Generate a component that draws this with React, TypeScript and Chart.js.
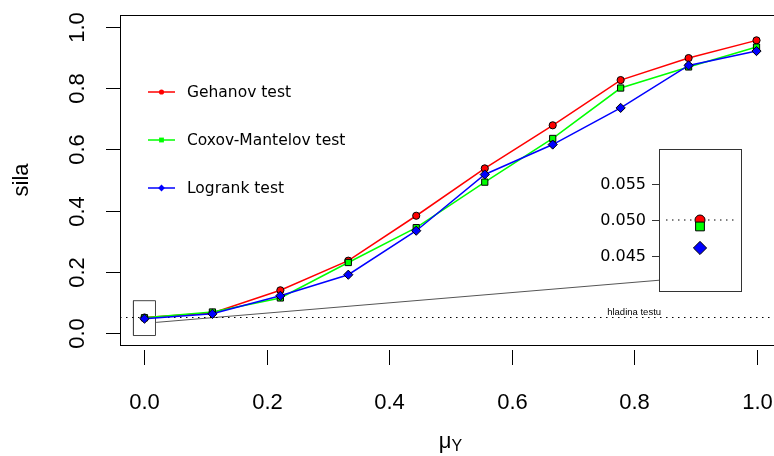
import React, { useEffect, useRef } from "react";
import { Chart, registerables } from "chart.js";

Chart.register(...registerables);

// ---- data ----
const muY = [0, 0.111, 0.222, 0.333, 0.444, 0.556, 0.667, 0.778, 0.889, 1.0];
const gehanPower = [0.05, 0.065, 0.139, 0.236, 0.383, 0.538, 0.679, 0.827, 0.899, 0.957];
const coxPower = [0.0491, 0.068, 0.114, 0.23, 0.344, 0.493, 0.636, 0.801, 0.87, 0.935];
const logrankPower = [0.0461, 0.062, 0.121, 0.19, 0.334, 0.518, 0.616, 0.736, 0.875, 0.922];

const seriesNames = ["Gehanov test", "Coxov-Mantelov test", "Logrank test"];
const seriesColors = ["#ff0000", "#00ff00", "#0000ff"];
const seriesShapes = ["circle", "rect", "rectRot"];

const xTicks = [0, 0.2, 0.4, 0.6, 0.8, 1.0];
const xTickLabels = ["0.0", "0.2", "0.4", "0.6", "0.8", "1.0"];
const yTicks = [0, 0.2, 0.4, 0.6, 0.8, 1.0];
const yTickLabels = ["0.0", "0.2", "0.4", "0.6", "0.8", "1.0"];
const insetTicks = [0.045, 0.05, 0.055];
const insetTickLabels = ["0.045", "0.050", "0.055"];

const alphaLevel = 0.05;
const alphaLabel = "hladina testu";
const alphaLabelX = 0.8;
const zoomBoxX = [-0.018, 0.018];
const zoomBoxY = [-0.009, 0.105];
const connectorX = [0.019, 0.841];
const connectorY = [0.034, 0.172];
const insetDotX = [-0.83, 0.85];

const AXIS_FONT = "'Liberation Sans', Arial, sans-serif";
const LEGEND_FONT = "'DejaVu Sans', Verdana, sans-serif";

function drawMarker(ctx: CanvasRenderingContext2D, shape: string, x: number, y: number, r: number) {
  ctx.beginPath();
  if (shape === "circle") {
    ctx.arc(x, y, r, 0, Math.PI * 2);
  } else if (shape === "rect") {
    const s = r * Math.SQRT1_2;
    ctx.rect(x - s, y - s, 2 * s, 2 * s);
  } else {
    ctx.moveTo(x - r, y);
    ctx.lineTo(x, y - r);
    ctx.lineTo(x + r, y);
    ctx.lineTo(x, y + r);
    ctx.closePath();
  }
  ctx.fill();
}

const mainDecor = {
  id: "mainDecor",
  afterDraw(chart: any) {
    const ctx: CanvasRenderingContext2D = chart.ctx;
    const a = chart.chartArea;
    const xs = chart.scales.x;
    const ys = chart.scales.y;
    ctx.save();
    // frame
    ctx.strokeStyle = "#000";
    ctx.lineWidth = 1;
    ctx.strokeRect(Math.round(a.left) + 0.5, Math.round(a.top) + 0.5, Math.round(a.right - a.left), Math.round(a.bottom - a.top));
    // x ticks
    ctx.fillStyle = "#000";
    ctx.font = `22px ${AXIS_FONT}`;
    ctx.textAlign = "center";
    ctx.textBaseline = "middle";
    xTicks.forEach((v, i) => {
      const px = Math.round(xs.getPixelForValue(v)) + 0.5;
      ctx.beginPath();
      ctx.moveTo(px, a.bottom + 5);
      ctx.lineTo(px, a.bottom + 20);
      ctx.stroke();
      ctx.fillText(xTickLabels[i], px, a.bottom + 58);
    });
    // y ticks
    yTicks.forEach((v, i) => {
      const py = Math.round(ys.getPixelForValue(v)) + 0.5;
      ctx.beginPath();
      ctx.moveTo(a.left, py);
      ctx.lineTo(a.left - 14, py);
      ctx.stroke();
      ctx.save();
      ctx.translate(a.left - 42, py);
      ctx.rotate(-Math.PI / 2);
      ctx.fillText(yTickLabels[i], 0, 0);
      ctx.restore();
    });
    // axis titles
    ctx.save();
    ctx.translate(a.left - 98, (a.top + a.bottom) / 2);
    ctx.rotate(-Math.PI / 2);
    ctx.fillText("sila", 0, 0);
    ctx.restore();
    const cx = (a.left + a.right) / 2;
    ctx.font = `22px ${AXIS_FONT}`;
    const muW = ctx.measureText("μ").width;
    ctx.font = `16px ${AXIS_FONT}`;
    const yW = ctx.measureText("Y").width;
    const startX = cx - (muW + yW) / 2;
    ctx.textAlign = "left";
    ctx.font = `22px ${AXIS_FONT}`;
    ctx.fillText("μ", startX, a.bottom + 97);
    ctx.font = `16px ${AXIS_FONT}`;
    ctx.fillText("Y", startX + muW, a.bottom + 102);
    // alpha label
    ctx.font = `9.5px ${AXIS_FONT}`;
    ctx.textAlign = "center";
    ctx.textBaseline = "alphabetic";
    ctx.fillText(alphaLabel, xs.getPixelForValue(alphaLabelX), ys.getPixelForValue(alphaLevel) - 3);
    // legend
    ctx.font = `15.5px ${LEGEND_FONT}`;
    ctx.textAlign = "left";
    ctx.textBaseline = "middle";
    const rowsY = [92, 140, 188];
    seriesNames.forEach((name, i) => {
      const y = rowsY[i];
      ctx.strokeStyle = seriesColors[i];
      ctx.lineWidth = 1.5;
      ctx.beginPath();
      ctx.moveTo(148, y);
      ctx.lineTo(175, y);
      ctx.stroke();
      ctx.fillStyle = seriesColors[i];
      drawMarker(ctx, seriesShapes[i], 161.5, y, seriesShapes[i] === "circle" ? 2.6 : 3.4);
      ctx.fillStyle = "#000";
      ctx.fillText(name, 187, y + 1);
    });
    ctx.restore();
  },
};

const insetDecor = {
  id: "insetDecor",
  afterDraw(chart: any) {
    const ctx: CanvasRenderingContext2D = chart.ctx;
    const a = chart.chartArea;
    const ys = chart.scales.y;
    ctx.save();
    ctx.strokeStyle = "#333";
    ctx.lineWidth = 1;
    ctx.strokeRect(Math.round(a.left) + 0.5, Math.round(a.top) + 0.5, Math.round(a.right - a.left), Math.round(a.bottom - a.top));
    ctx.fillStyle = "#000";
    ctx.font = `16px ${LEGEND_FONT}`;
    ctx.textAlign = "right";
    ctx.textBaseline = "middle";
    insetTicks.forEach((v, i) => {
      const py = Math.round(ys.getPixelForValue(v)) + 0.5;
      ctx.beginPath();
      ctx.moveTo(a.left, py);
      ctx.lineTo(a.left - 7, py);
      ctx.stroke();
      ctx.fillText(insetTickLabels[i], a.left - 13, py);
    });
    ctx.restore();
  },
};

export default function App() {
  const mainRef = useRef<HTMLCanvasElement | null>(null);
  const insetRef = useRef<HTMLCanvasElement | null>(null);

  useEffect(() => {
    const series = [gehanPower, coxPower, logrankPower];
    const radii = [3.6, 4.4, 4.6];
    const datasets: any[] = series.map((vals, i) => ({
      label: seriesNames[i],
      data: muY.map((x, k) => ({ x, y: vals[k] })),
      borderColor: seriesColors[i],
      backgroundColor: seriesColors[i],
      borderWidth: 1.5,
      pointStyle: seriesShapes[i],
      pointRadius: radii[i],
      pointBackgroundColor: seriesColors[i],
      pointBorderColor: "#000",
      pointBorderWidth: 1,
      tension: 0,
      order: 3 - i,
    }));
    datasets.push({
      label: "alpha",
      data: [{ x: -0.04, y: alphaLevel }, { x: 1.04, y: alphaLevel }],
      borderColor: "#000",
      borderWidth: 1.2,
      borderDash: [1.5, 4.5],
      pointRadius: 0,
      order: 10,
    });
    datasets.push({
      label: "connector",
      data: [{ x: connectorX[0], y: connectorY[0] }, { x: connectorX[1], y: connectorY[1] }],
      borderColor: "#555",
      borderWidth: 1,
      pointRadius: 0,
      order: 11,
    });
    datasets.push({
      label: "zoombox",
      data: [
        { x: zoomBoxX[0], y: zoomBoxY[0] },
        { x: zoomBoxX[1], y: zoomBoxY[0] },
        { x: zoomBoxX[1], y: zoomBoxY[1] },
        { x: zoomBoxX[0], y: zoomBoxY[1] },
        { x: zoomBoxX[0], y: zoomBoxY[0] },
      ],
      borderColor: "#444",
      borderWidth: 1,
      pointRadius: 0,
      order: 12,
    });

    const main = new Chart(mainRef.current as HTMLCanvasElement, {
      type: "line",
      data: { datasets },
      options: {
        animation: false,
        responsive: false,
        devicePixelRatio: 1,
        layout: { padding: { left: 120, right: 19, top: 15, bottom: 111 } },
        scales: {
          x: { type: "linear", min: -0.04, max: 1.04, display: false },
          y: { type: "linear", min: -0.04, max: 1.04, display: false },
        },
        plugins: { legend: { display: false }, tooltip: { enabled: false } },
      },
      plugins: [mainDecor],
    } as any);

    const insetRadii = [5, 6.2, 6.6];
    const insetSets: any[] = series.map((vals, i) => ({
      label: seriesNames[i],
      data: [{ x: 0, y: vals[0] }],
      showLine: false,
      pointStyle: seriesShapes[i],
      pointRadius: insetRadii[i],
      pointBackgroundColor: seriesColors[i],
      pointBorderColor: "#000",
      pointBorderWidth: 1,
      order: 3 - i,
    }));
    insetSets.push({
      label: "alpha",
      data: [{ x: insetDotX[0], y: alphaLevel }, { x: insetDotX[1], y: alphaLevel }],
      borderColor: "#000",
      borderWidth: 1.2,
      borderDash: [1.5, 4.5],
      pointRadius: 0,
      order: 10,
    });
    const inset = new Chart(insetRef.current as HTMLCanvasElement, {
      type: "line",
      data: { datasets: insetSets },
      options: {
        animation: false,
        responsive: false,
        devicePixelRatio: 1,
        layout: { padding: { left: 69, right: 9, top: 9, bottom: 9 } },
        scales: {
          x: { type: "linear", min: -1, max: 1, display: false },
          y: { type: "linear", min: 0.0401, max: 0.0599, display: false },
        },
        plugins: { legend: { display: false }, tooltip: { enabled: false } },
      },
      plugins: [insetDecor],
    } as any);

    return () => {
      main.destroy();
      inset.destroy();
    };
  }, []);

  return (
    <div
      style={{
        position: "fixed",
        left: 0,
        top: 0,
        width: 774,
        height: 456,
        overflow: "hidden",
        background: "#fff",
      }}
    >
      <canvas ref={mainRef} width={800} height={456} style={{ position: "absolute", left: 0, top: 0, width: 800, height: 456 }} />
      <canvas ref={insetRef} width={160} height={160} style={{ position: "absolute", left: 590, top: 140, width: 160, height: 160 }} />
    </div>
  );
}
